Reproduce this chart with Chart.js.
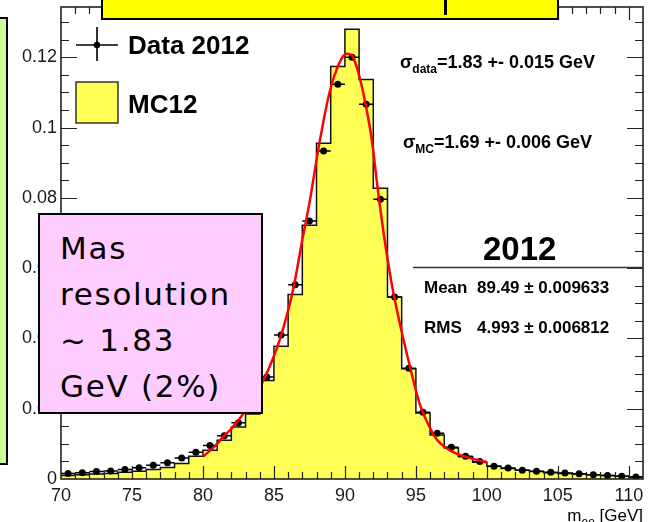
<!DOCTYPE html>
<html>
<head>
<meta charset="utf-8">
<title>Z to ee mass</title>
<script src="https://cdn.jsdelivr.net/npm/chart.js@4.4.1/dist/chart.umd.min.js"></script>
<style>
  html, body { margin: 0; padding: 0; background: #fff; }
  #wrap { position: relative; width: 648px; height: 522px; overflow: hidden; }
  #zee { position: absolute; left: 0; top: 0; }
  .note { position: absolute; box-sizing: border-box; border: 2px solid #000; }
  #greenNote { left: -12px; top: 17px; width: 20px; height: 448px; background: #ccff99; }
  #titleNote { left: 101px; top: -30px; width: 458px; height: 50px; background: #ffff00; }
  #titleStroke { position: absolute; left: 444px; top: 0; width: 3px; height: 15px; background: #000; }
  #pinkNote {
    left: 38px; top: 213px; width: 225px; height: 201px; background: #ffccff;
    padding: 10px 0 0 20px;
    font-family: "Comic Sans MS", "DejaVu Sans", sans-serif; font-size: 31px;
    letter-spacing: 1.7px; line-height: 46px; color: #000;
  }
</style>
</head>
<body>
<div id="wrap">
  <canvas id="zee" width="648" height="522"></canvas>
  <div class="note" id="greenNote"></div>
  <div class="note" id="titleNote"></div>
  <div id="titleStroke"></div>
  <div class="note" id="pinkNote">Mas<br>resolution<br>~ 1.83<br>GeV (2%)</div>
</div>
<script>
//
// Z -> ee invariant mass, data 2012 vs MC12 (normalised)
//

// lower edges of the 1 GeV mass bins
var binLow = [70, 71, 72, 73, 74, 75, 76, 77, 78, 79,
              80, 81, 82, 83, 84, 85, 86, 87, 88, 89,
              90, 91, 92, 93, 94, 95, 96, 97, 98, 99,
              100, 101, 102, 103, 104, 105, 106, 107, 108, 109, 110];
var massMax = 111;

// MC12 histogram contents
var mcValues = [0.0010, 0.0012, 0.0014, 0.0016, 0.0019, 0.0022, 0.0027, 0.0033, 0.0044, 0.0065,
                0.0082, 0.0110, 0.0148, 0.0185, 0.0280, 0.0378, 0.0525, 0.0722, 0.0955, 0.1174,
                0.1280, 0.1137, 0.0827, 0.0518, 0.0314, 0.0188, 0.0125, 0.0088, 0.0063, 0.0048,
                0.0036, 0.0030, 0.0025, 0.0021, 0.0018, 0.0016, 0.0014, 0.0012, 0.0010, 0.0008, 0.0006];

// data 2012 contents
var dataValues = [0.0016, 0.0018, 0.0021, 0.0023, 0.0027, 0.0032, 0.0039, 0.0046, 0.0060, 0.0076,
                  0.0095, 0.0123, 0.0160, 0.0215, 0.0290, 0.0410, 0.0553, 0.0734, 0.0933, 0.1123,
                  0.1200, 0.1066, 0.0796, 0.0518, 0.0315, 0.0190, 0.0130, 0.0090, 0.0065, 0.0050,
                  0.0036, 0.0031, 0.0025, 0.0022, 0.0019, 0.0017, 0.0015, 0.0012, 0.0010, 0.0008, 0.0006];

// fit to the data, 80-100 GeV
var fitMass = [80.0, 81.0, 81.4, 82.0, 82.6, 83.3, 84.0, 84.7, 85.4, 86.3,
               87.0, 87.5, 88.2, 88.9, 89.6, 90.1, 90.5, 90.9, 91.4, 91.9,
               92.3, 92.8, 93.3, 93.8, 94.4, 95.3, 96.0, 96.5, 97.6, 98.8, 100.0];
var fitValues = [0.0063, 0.0100, 0.0119, 0.0143, 0.0173, 0.0210, 0.0260, 0.0320, 0.0395, 0.0529,
                 0.0680, 0.0785, 0.0955, 0.1097, 0.1183, 0.1210, 0.1205, 0.1163, 0.1078, 0.0964,
                 0.0830, 0.0680, 0.0555, 0.0455, 0.0350, 0.0210, 0.0145, 0.0111, 0.0077, 0.0060, 0.0047];

// axis ticks
var xTickValues = [70, 75, 80, 85, 90, 95, 100, 105, 110];
var xTickLabels = ['70', '75', '80', '85', '90', '95', '100', '105', '110'];
var yTickValues = [0, 0.02, 0.04, 0.06, 0.08, 0.1, 0.12];
var yTickLabels = ['0', '0.02', '0.04', '0.06', '0.08', '0.1', '0.12'];

var FONT = '"Liberation Sans", Arial, Helvetica, sans-serif';

// histogram outline: one point per lower edge, plus the closing edge
var mcPoints = binLow.map(function(lo, i) { return { x: lo, y: mcValues[i] }; });
mcPoints.push({ x: massMax, y: mcValues[mcValues.length - 1] });

var dataPoints = binLow.map(function(lo, i) { return { x: lo + 0.5, y: dataValues[i] }; });
var fitPoints = fitMass.map(function(m, i) { return { x: m, y: fitValues[i] }; });


// horizontal bin-width bars on the data points
var binBars = {
	id: 'binBars',
	afterDatasetDraw: function(chart, args) {
		if (args.index !== 1) return;
		var ctx = chart.ctx, xs = chart.scales.x, ys = chart.scales.y;
		ctx.save();
		ctx.strokeStyle = '#000';
		ctx.lineWidth = 1.5;
		ctx.beginPath();
		dataPoints.forEach(function(p) {
			var py = ys.getPixelForValue(p.y);
			ctx.moveTo(xs.getPixelForValue(p.x - 0.5), py);
			ctx.lineTo(xs.getPixelForValue(p.x + 0.5), py);
		});
		ctx.stroke();
		ctx.restore();
	}
};

// frame with inward ticks on all four sides
var rootFrame = {
	id: 'rootFrame',
	afterDatasetsDraw: function(chart) {
		var ctx = chart.ctx, a = chart.chartArea, xs = chart.scales.x, ys = chart.scales.y;
		ctx.save();
		ctx.strokeStyle = '#222';
		ctx.lineWidth = 1.2;
		ctx.beginPath();
		for (var m = 71; m <= 110; m++) {
			var len = m % 5 === 0 ? 13 : 7;
			var px = Math.round(xs.getPixelForValue(m)) + 0.5;
			ctx.moveTo(px, a.bottom); ctx.lineTo(px, a.bottom - len);
			ctx.moveTo(px, a.top); ctx.lineTo(px, a.top + len);
		}
		for (var k = 1; k <= 26; k++) {
			var tl = k % 4 === 0 ? 16 : 8;
			var py = Math.round(ys.getPixelForValue(k * 0.005)) + 0.5;
			ctx.moveTo(a.left, py); ctx.lineTo(a.left + tl, py);
			ctx.moveTo(a.right, py); ctx.lineTo(a.right - tl, py);
		}
		ctx.stroke();
		ctx.lineWidth = 1.6;
		ctx.strokeRect(a.left, a.top, a.right - a.left, a.bottom - a.top);
		ctx.restore();
	}
};

// legend, fit results, statistics box and axis title
var annotations = {
	id: 'annotations',
	afterDraw: function(chart) {
		var ctx = chart.ctx;
		ctx.save();
		ctx.fillStyle = '#000';
		ctx.strokeStyle = '#000';
		ctx.textBaseline = 'alphabetic';

		// legend
		ctx.lineWidth = 1.6;
		ctx.beginPath();
		ctx.moveTo(76, 45); ctx.lineTo(118, 45);
		ctx.moveTo(97, 27); ctx.lineTo(97, 61);
		ctx.stroke();
		ctx.beginPath();
		ctx.arc(97, 45, 3.2, 0, Math.PI * 2);
		ctx.fill();
		ctx.fillStyle = '#ffff55';
		ctx.fillRect(76, 82, 42, 41);
		ctx.strokeStyle = '#333';
		ctx.lineWidth = 1.5;
		ctx.strokeRect(76, 82, 42, 41);
		ctx.fillStyle = '#000';
		ctx.font = 'bold 26px ' + FONT;
		ctx.fillText('Data 2012', 128, 54);
		ctx.fillText('MC12', 128, 113);

		// fit widths
		function sigma(sub, rest, x, y) {
			ctx.font = 'bold 18px ' + FONT;
			ctx.fillText('\u03c3', x, y);
			var w = ctx.measureText('\u03c3').width;
			ctx.font = 'bold 12px ' + FONT;
			ctx.fillText(sub, x + w, y + 5);
			var w2 = ctx.measureText(sub).width;
			ctx.font = 'bold 18px ' + FONT;
			ctx.fillText(rest, x + w + w2, y);
		}
		sigma('data', '=1.83 +- 0.015 GeV', 400, 68);
		sigma('MC', '=1.69 +- 0.006 GeV', 403, 148);

		// statistics
		ctx.font = 'bold 33px ' + FONT;
		ctx.fillText('2012', 483, 260);
		ctx.strokeStyle = '#333';
		ctx.lineWidth = 1.5;
		ctx.beginPath();
		ctx.moveTo(413, 267.5); ctx.lineTo(643, 267.5);
		ctx.stroke();
		ctx.font = 'bold 17px ' + FONT;
		ctx.fillText('Mean', 424, 293);
		ctx.fillText('89.49 \u00b1 0.009633', 477, 293);
		ctx.fillText('RMS', 424, 333);
		ctx.fillText('4.993 \u00b1 0.006812', 477, 333);

		// axis title
		ctx.textAlign = 'right';
		ctx.font = '17px ' + FONT;
		ctx.fillText('[GeV]', 643, 521);
		var wg = ctx.measureText('[GeV] ').width;
		ctx.font = '12px ' + FONT;
		ctx.fillText('ee', 643 - wg, 526);
		var we = ctx.measureText('ee').width;
		ctx.font = '17px ' + FONT;
		ctx.fillText('m', 643 - wg - we, 521);
		ctx.restore();
	}
};


var zeeChart = new Chart(document.getElementById('zee'), {
	type: 'line',
	data: {
		datasets: [{
			label: 'fit',
			data: fitPoints,
			borderColor: '#ff0000',
			borderWidth: 2.5,
			pointRadius: 0,
			fill: false,
			cubicInterpolationMode: 'monotone',
			order: 1
		}, {
			label: 'Data 2012',
			data: dataPoints,
			showLine: false,
			pointRadius: 3.5,
			pointBackgroundColor: '#000',
			pointBorderWidth: 0,
			order: 2
		}, {
			label: 'MC12',
			data: mcPoints,
			stepped: true,
			borderColor: '#111',
			borderWidth: 1.5,
			backgroundColor: '#ffff55',
			pointRadius: 0,
			fill: 'origin',
			order: 3
		}]
	},
	options: {
		responsive: false,
		animation: false,
		devicePixelRatio: 1,
		layout: { padding: { top: 7, right: 5, left: 0, bottom: 0 } },
		plugins: {
			legend: { display: false },
			tooltip: { enabled: false }
		},
		scales: {
			x: {
				type: 'linear',
				min: 70,
				max: massMax,
				grid: { display: false, drawTicks: false },
				border: { display: false },
				afterBuildTicks: function(s) {
					s.ticks = xTickValues.map(function(v) { return { value: v }; });
				},
				afterFit: function(s) {
					s.height = 43;
					s.paddingLeft = 0;
					s.paddingRight = 0;
				},
				ticks: {
					autoSkip: false,
					maxRotation: 0,
					padding: 6,
					color: '#1a1a1a',
					font: { family: FONT, size: 18 },
					callback: function(v, i) { return xTickLabels[i]; }
				}
			},
			y: {
				min: 0,
				max: 0.1343,
				grid: { display: false, drawTicks: false },
				border: { display: false },
				afterBuildTicks: function(s) {
					s.ticks = yTickValues.map(function(v) { return { value: v }; });
				},
				afterFit: function(s) {
					s.width = 61;
					s.paddingTop = 0;
					s.paddingBottom = 0;
				},
				ticks: {
					padding: 4,
					color: '#1a1a1a',
					font: { family: FONT, size: 18 },
					callback: function(v, i) { return yTickLabels[i]; }
				}
			}
		}
	},
	plugins: [binBars, rootFrame, annotations]
});
</script>
</body>
</html>
